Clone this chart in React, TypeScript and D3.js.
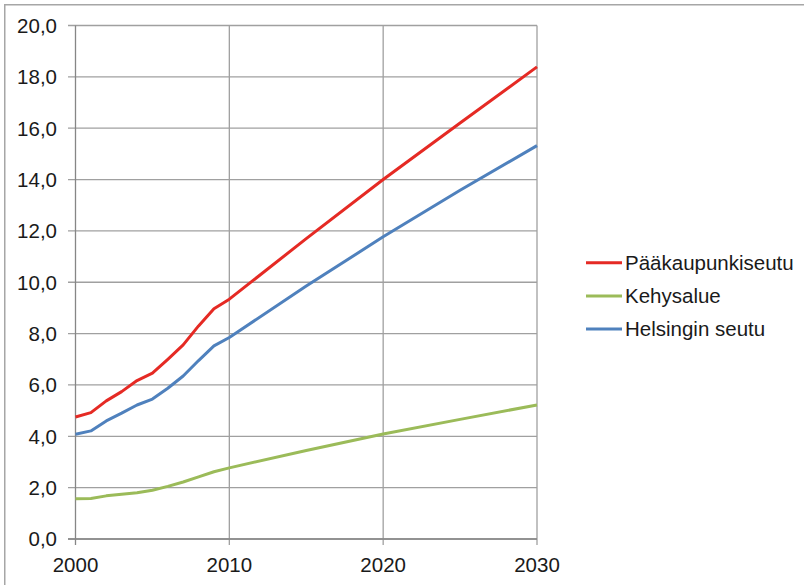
import React from "react";
import * as d3 from "d3";

const years = [2000, 2001, 2002, 2003, 2004, 2005, 2006, 2007, 2008, 2009, 2010, 2015, 2020, 2025, 2030];
const paakaupunkiseutu = [4.75, 4.92, 5.38, 5.74, 6.17, 6.46, 7.0, 7.56, 8.3, 8.97, 9.34, 11.7, 14.0, 16.2, 18.39];
const kehysalue = [1.57, 1.58, 1.68, 1.74, 1.8, 1.9, 2.05, 2.22, 2.42, 2.62, 2.77, 3.45, 4.09, 4.66, 5.22];
const helsinginSeutu = [4.08, 4.21, 4.6, 4.9, 5.22, 5.45, 5.87, 6.35, 6.95, 7.52, 7.85, 9.85, 11.77, 13.58, 15.32];
const seriesNames = ["Pääkaupunkiseutu", "Kehysalue", "Helsingin seutu"];
const seriesColors = ["#E52A24", "#9BBB59", "#4F81BD"];
const yTicks = [0, 2, 4, 6, 8, 10, 12, 14, 16, 18, 20];
const xTicks = [2000, 2010, 2020, 2030];

const W = 804;
const H = 585;
const FONT = "'Liberation Sans', Arial, sans-serif";

export default function App() {
  const x = d3.scaleLinear().domain([2000, 2030]).range([75.5, 537]);
  const y = d3.scaleLinear().domain([0, 20]).range([539, 25.5]);
  const allSeries = [paakaupunkiseutu, kehysalue, helsinginSeutu];
  const line = d3
    .line<number>()
    .x((_, i) => x(years[i]))
    .y((d) => y(d));
  const fmt = (v: number) => v.toFixed(1).replace(".", ",");

  return (
    <svg
      width={W}
      height={H}
      style={{ position: "absolute", left: 0, top: 0, background: "#fff" }}
      fontFamily={FONT}
    >
      <rect x={0} y={0} width={W} height={H} fill="#fff" />
      {/* outer border */}
      <rect x={4.75} y={4.75} width={W + 10} height={H + 10} fill="none" stroke="#A6A6A6" strokeWidth={1.5} />
      {/* horizontal gridlines */}
      {yTicks.map((t) => (
        <line key={"gy" + t} x1={68} x2={x(2030)} y1={y(t)} y2={y(t)} stroke="#A0A0A0" strokeWidth={1.3} />
      ))}
      {/* vertical gridlines */}
      {xTicks.map((t) => (
        <line key={"gx" + t} x1={x(t)} x2={x(t)} y1={y(20)} y2={545} stroke={t === 2000 ? "#868686" : "#A0A0A0"} strokeWidth={1.3} />
      ))}
      <line x1={68} x2={x(2030)} y1={y(0)} y2={y(0)} stroke="#868686" strokeWidth={1.3} />
      {/* y labels */}
      {yTicks.map((t) => (
        <text key={"ly" + t} x={57} y={y(t)} dy="0.36em" textAnchor="end" fontSize={20.5} fill="#1a1a1a">
          {fmt(t)}
        </text>
      ))}
      {/* x labels */}
      {xTicks.map((t) => (
        <text key={"lx" + t} x={x(t)} y={572} textAnchor="middle" fontSize={20.5} fill="#1a1a1a">
          {t}
        </text>
      ))}
      {/* series */}
      {allSeries.map((s, i) => (
        <path key={"s" + i} d={line(s) || ""} fill="none" stroke={seriesColors[i]} strokeWidth={3} strokeLinejoin="round" />
      ))}
      {/* legend */}
      {seriesNames.map((n, i) => (
        <g key={"lg" + i} transform={`translate(0, ${262.7 + i * 33.2})`}>
          <line x1={586} x2={622} y1={0} y2={0} stroke={seriesColors[i]} strokeWidth={3} />
          <text x={625} y={0} dy="0.36em" fontSize={20.5} fill="#1a1a1a">
            {n}
          </text>
        </g>
      ))}
    </svg>
  );
}
